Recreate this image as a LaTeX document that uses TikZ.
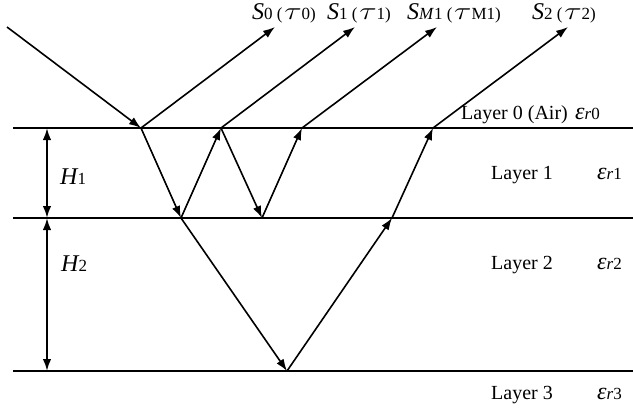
\documentclass[tikz,border=0pt]{standalone}
\usepackage{fontspec}
\setmainfont{Liberation Serif}
\usetikzlibrary{arrows.meta}
\newcommand{\lyrfont}{\fontsize{20}{23}\selectfont}
\newcommand{\subfont}{\fontsize{17}{19}\selectfont}
\newcommand{\symfont}{\fontsize{24}{27}\selectfont\itshape}
\newcommand{\wtau}{\scalebox{1.3}[1]{\fontsize{26}{28}\selectfont$\tau$}}
\newcommand{\sig}[2]{{\symfont S}{\subfont #1\ (}\,\wtau{\subfont #2)}}
\newcommand{\epsr}[1]{{\symfont ε}{\subfont\itshape r}{\subfont #1}}

\begin{document}
\begin{tikzpicture}[x=1pt, y=-1pt,
  every node/.style={inner sep=0pt},
  iface/.style={line width=1.9pt},
  ray/.style={line width=1.6pt, -{Latex[length=12pt,width=8.5pt]}},
  dim/.style={line width=2pt, {Latex[length=12pt,width=8.5pt]}-{Latex[length=12pt,width=8.5pt]}},
  lbl/.style={anchor=base west, font=\lyrfont},
  sym/.style={anchor=base west},
]
  \useasboundingbox (0,0) rectangle (633,416);

  % interfaces
  \coordinate (i0w) at (13,128);  \coordinate (i0e) at (633,128);
  \coordinate (i1w) at (13,218);  \coordinate (i1e) at (633,218);
  \coordinate (i2w) at (13,371);  \coordinate (i2e) at (633,371);
  \draw[iface] (i0w) -- (i0e);
  \draw[iface] (i1w) -- (i1e);
  \draw[iface] (i2w) -- (i2e);

  % thickness markers
  \coordinate (h0) at (47,128);
  \coordinate (h1) at (47,218);
  \coordinate (h2) at (47,371);
  \draw[dim] (h0) -- (h1);
  \draw[dim] (h1) -- (h2);
  \node[sym] (hA) at (60,184) {{\symfont H}{\subfont 1}};
  \node[sym] (hB) at (61,271) {{\symfont H}{\subfont 2}};

  % ray path
  \coordinate (src) at (7,27);
  \coordinate (p1) at (141,128);
  \coordinate (p2) at (181,218);
  \coordinate (p3) at (221,128);
  \coordinate (p4) at (262,218);
  \coordinate (p5) at (302,128);
  \coordinate (p6) at (287,371);
  \coordinate (p7) at (392,218);
  \coordinate (p8) at (433,128);
  \coordinate (o0) at (275,27);
  \coordinate (o1) at (355,27);
  \coordinate (oM) at (437,27);
  \coordinate (o2) at (568,27);

  \draw[ray] (src) -- (p1);
  \draw[ray] (p1) -- (o0);
  \draw[ray] (p1) -- (p2);
  \draw[ray] (p2) -- (p3);
  \draw[ray] (p3) -- (o1);
  \draw[ray] (p3) -- (p4);
  \draw[ray] (p4) -- (p5);
  \draw[ray] (p5) -- (oM);
  \draw[ray] (p2) -- (p6);
  \draw[ray] (p6) -- (p7);
  \draw[ray] (p7) -- (p8);
  \draw[ray] (p8) -- (o2);

  % returned signals
  \node[sym] (s0) at (252,19) {\sig{0}{0}};
  \node[sym] (s1) at (327,19) {\sig{1}{1}};
  \node[sym] (sM) at (407,19) {\sig{\textit{M}1}{M1}};
  \node[sym] (s2) at (532,19) {\sig{2}{2}};

  % layers
  \node[lbl] (L0) at (461,119) {Layer 0 (Air)};
  \node[sym] (e0) at (575,119) {\epsr{0}};
  \node[lbl] (L1) at (491,179) {Layer 1};
  \node[sym] (e1) at (597,179) {\epsr{1}};
  \node[lbl] (L2) at (491,269) {Layer 2};
  \node[sym] (e2) at (597,269) {\epsr{2}};
  \node[lbl] (L3) at (491,399) {Layer 3};
  \node[sym] (e3) at (597,399) {\epsr{3}};
\end{tikzpicture}
\end{document}
